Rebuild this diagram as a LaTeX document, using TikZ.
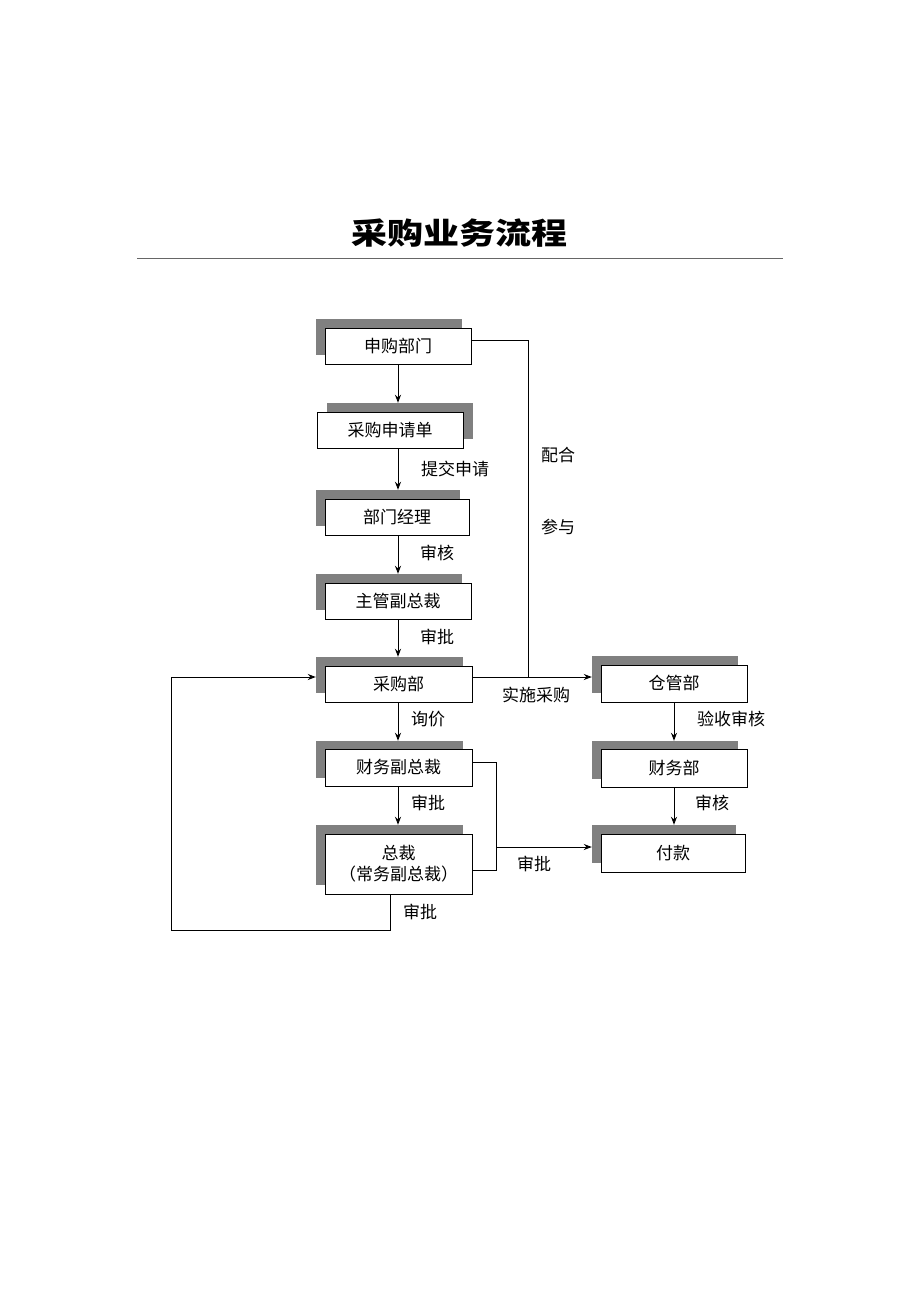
\documentclass[tikz,border=0pt]{standalone}
\usepackage{fontspec}
\setmainfont{Noto Sans CJK SC}
\newfontfamily\cjk{Noto Sans CJK SC}
\usetikzlibrary{arrows.meta,calc}
\begin{document}
\begin{tikzpicture}[x=1pt,y=-1pt,
  box/.style={draw=black,line width=1pt,fill=white,minimum width=146pt,minimum height=36pt,inner sep=0pt,font=\cjk\fontsize{17}{21}\selectfont,align=center},
  shd/.style={fill=black!50,draw=none,minimum width=146pt,minimum height=36pt,inner sep=0pt},
  lbl/.style={font=\cjk\fontsize{17}{21}\selectfont,inner sep=0pt},
  con/.style={line width=1pt},
  arr/.style={line width=1pt,-{Stealth[length=8pt,width=6pt]}}]
\useasboundingbox (0,0) rectangle (920,1302);
\node[font=\cjk\bfseries\fontsize{30}{34}\selectfont,inner sep=0pt,xscale=1.2,transform shape] (title) at (459,233) {采购业务流程};
\draw[black!60,line width=1pt] (137,258) coordinate (hl) -- (783,258) coordinate (hr);
% shadows
\node[shd] (As) at (389,337) {};
\node[shd] (Bs) at (399.5,421) {};
\node[shd,minimum width=144pt] (Cs) at (388,508) {};
\node[shd] (Ds) at (389,592) {};
\node[shd,minimum width=147pt] (Es) at (389.5,675) {};
\node[shd,minimum width=147pt,minimum height=37pt] (Fs) at (389.5,759.5) {};
\node[shd,minimum width=147pt,minimum height=60pt] (Gs) at (389.5,855) {};
\node[shd,minimum height=37pt] (Hs) at (665,674.5) {};
\node[shd,minimum height=38pt] (Is) at (665,760) {};
\node[shd,minimum width=144pt,minimum height=38pt] (Js) at (664,844) {};
% boxes
\node[box] (A) at (398,346) {申购部门};
\node[box] (B) at (390,430) {采购申请单};
\node[box,minimum width=144pt] (C) at (397,517) {部门经理};
\node[box] (D) at (398,601) {主管副总裁};
\node[box,minimum width=147pt] (E) at (398.5,684) {采购部};
\node[box,minimum width=147pt,minimum height=37pt] (F) at (398.5,767.5) {财务副总裁};
\node[box,minimum width=147pt,minimum height=60pt] (G) at (398.5,864) {总裁\\（常务副总裁）};
\node[box,minimum height=37pt] (H) at (674,683.5) {仓管部};
\node[box,minimum height=38pt] (I) at (674,768) {财务部};
\node[box,minimum width=144pt,minimum height=38pt] (J) at (673,853) {付款};
% vertical arrows
\draw[arr] (A.south) -- (A.south |- Bs.north);
\draw[arr] (A.south |- B.south) -- (A.south |- Cs.north);
\draw[arr] (A.south |- C.south) -- (A.south |- Ds.north);
\draw[arr] (D.south) -- (D.south |- Es.north);
\draw[arr] (D.south |- E.south) -- (D.south |- Fs.north);
\draw[arr] (D.south |- F.south) -- (D.south |- Gs.north);
\draw[arr] (H.south) -- (H.south |- Is.north);
\draw[arr] (H.south |- I.south) -- (H.south |- Js.north);
% right connectors
\coordinate (j1) at (528,340);
\coordinate (j2) at (528,677);
\draw[con] (A.east |- j1) -- (j1) -- (j2);
\draw[arr] (E.east |- j2) -- (Hs.west |- j2);
\coordinate (k1) at (496,762);
\coordinate (k2) at (496,870);
\coordinate (k3) at (496,847);
\draw[con] (F.east |- k1) -- (k1) -- (k2) -- (G.east |- k2);
\draw[arr] (k3) -- (Js.west |- k3);
% loop back
\coordinate (l1) at (390,930);
\coordinate (l2) at (171,930);
\coordinate (l3) at (171,677);
\draw[arr] (l1 |- G.south) -- (l1) -- (l2) -- (l3) -- (Es.west |- l3);
% labels
\node[lbl] (t1) at (455,469) {提交申请};
\node[lbl] (t2) at (437,553) {审核};
\node[lbl] (t3) at (437,637) {审批};
\node[lbl] (t4) at (428,719) {询价};
\node[lbl] (t5) at (428,803) {审批};
\node[lbl] (t6) at (536,695) {实施采购};
\node[lbl] (t7) at (558,455) {配合};
\node[lbl] (t8) at (558,527) {参与};
\node[lbl] (t9) at (534,864) {审批};
\node[lbl] (t10) at (420,912) {审批};
\node[lbl] (t11) at (731,719) {验收审核};
\node[lbl] (t12) at (712,803) {审核};
\end{tikzpicture}
\end{document}
